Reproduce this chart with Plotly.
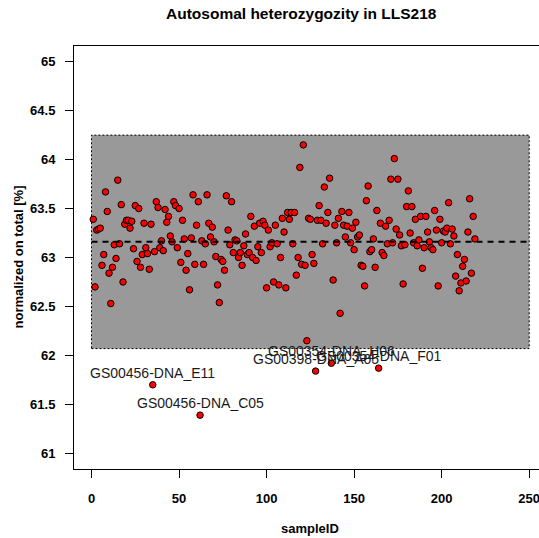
import plotly.graph_objects as go

# Normalised autosomal heterozygosity per sample (percent), in sample order
heterozygosity = [
    63.39, 62.70, 63.28, 63.29, 63.30, 62.92, 63.03, 63.67, 63.47, 62.84,
    62.53, 62.90, 63.13, 62.99, 63.79, 63.14, 63.54, 62.75, 63.34, 63.38,
    63.38, 63.30, 63.37, 63.09, 63.53, 62.96, 63.50, 62.90, 63.03, 63.35,
    63.10, 63.04, 62.88, 63.34, 61.70, 63.06, 63.57, 63.51, 63.10, 63.17,
    63.07, 63.49, 63.36, 63.42, 63.22, 63.16, 63.57, 63.53, 63.10, 63.50,
    62.95, 63.38, 63.19, 62.87, 63.04, 62.67, 63.20, 63.64, 62.93, 63.33,
    63.57, 61.39, 63.17, 62.93, 63.14, 63.64, 63.35, 63.21, 63.31, 63.16,
    63.01, 62.72, 62.54, 62.98, 62.96, 62.87, 63.63, 63.28, 63.13, 63.57,
    63.05, 63.18, 63.17, 63.00, 63.05, 62.92, 63.12, 63.24, 63.03, 63.05,
    63.42, 63.00, 63.32, 62.97, 63.11, 63.35, 63.05, 63.37, 63.33, 62.69,
    63.28, 63.11, 63.15, 62.75, 63.33, 63.14, 62.72, 63.00, 63.40, 63.26,
    62.69, 63.46, 63.39, 63.46, 63.14, 63.46, 62.82, 63.00, 63.92, 62.93,
    64.15, 62.92, 62.15, 63.40, 63.39, 63.03, 62.94, 61.84, 63.38, 63.53,
    63.38, 63.14, 63.72, 63.35, 63.46, 63.81, 61.92, 62.77, 63.33, 63.15,
    63.40, 62.43, 63.47, 63.33, 63.21, 63.32, 63.46, 63.15, 63.30, 63.08,
    63.36, 63.21, 63.23, 62.92, 62.91, 62.71, 63.58, 63.73, 63.06, 63.08,
    63.19, 62.90, 63.48, 61.87, 63.35, 63.05, 63.02, 63.32, 63.14, 63.38,
    63.80, 63.15, 64.01, 63.29, 63.80, 63.23, 63.12, 62.73, 63.13, 63.52,
    63.68, 63.25, 63.52, 63.15, 63.39, 63.12, 63.18, 63.42, 62.89, 63.10,
    63.42, 63.26, 63.16, 63.10, 63.08, 63.48, 63.28, 62.71, 63.39, 63.15,
    63.27, 63.26, 63.30, 63.56, 63.14, 63.29, 63.22, 62.81, 63.03, 62.66,
    62.74, 62.91, 62.98, 62.76, 63.26, 63.60, 62.84, 63.42, 63.19,
]
sample_ids = list(range(1, len(heterozygosity) + 1))

# Samples falling outside the accepted band, labelled by name
outlier_ids = [35, 62, 128, 137, 164]
outlier_names = [
    "GS00456-DNA_E11",
    "GS00456-DNA_C05",
    "GS00398-DNA_A05",
    "GS00354-DNA_H06",
    "GS00354-DNA_F01",
]

# Summary statistics: cohort mean and acceptance band
mean_value = 63.16
band_low = 62.07
band_high = 64.25
band_x = [0, 250]

x_ticks = [0, 50, 100, 150, 200, 250]
y_ticks = [61, 61.5, 62, 62.5, 63, 63.5, 64, 64.5, 65]

FONT = "Liberation Sans, Arial, Helvetica, sans-serif"
W, H = 539, 538
ML, MR, MT, MB = 74, 0, 46, 69

fig = go.Figure()

fig.add_trace(go.Scatter(
    x=sample_ids,
    y=heterozygosity,
    mode="markers",
    marker=dict(size=6.5, color="#ff0000", line=dict(color="#000000", width=1)),
    hoverinfo="x+y",
    showlegend=False,
    cliponaxis=False,
))

# accepted band and mean line
fig.add_shape(type="rect", xref="x", yref="y",
              x0=band_x[0], x1=band_x[1], y0=band_low, y1=band_high,
              fillcolor="#999999", line=dict(color="#000000", width=1, dash="2px,2px"),
              layer="below")
fig.add_shape(type="line", xref="x", yref="y",
              x0=band_x[0], x1=band_x[1], y0=mean_value, y1=mean_value,
              line=dict(color="#000000", width=2, dash="6px,5px"))

# outlier labels placed just above each point
for sid, name in zip(outlier_ids, outlier_names):
    fig.add_annotation(x=sid, y=heterozygosity[sid - 1], text=name,
                       showarrow=False, yshift=12,
                       font=dict(family=FONT, size=14, color="#1a1a1a"))

# title and axis titles
fig.add_annotation(xref="paper", yref="paper",
                   x=(301 - ML) / (W - ML - MR), y=1 + (MT - 14) / (H - MT - MB),
                   text="<b>Autosomal heterozygozity in LLS218</b>", showarrow=False,
                   xanchor="center", yanchor="middle",
                   font=dict(family=FONT, size=15.5, color="#000000"))
fig.add_annotation(xref="paper", yref="paper",
                   x=(310 - ML) / (W - ML - MR), y=-(528 - (H - MB)) / (H - MT - MB),
                   text="<b>sampleID</b>", showarrow=False,
                   xanchor="center", yanchor="middle",
                   font=dict(family=FONT, size=13, color="#000000"))
fig.add_annotation(xref="paper", yref="paper",
                   x=-(ML - 18) / (W - ML - MR), y=0.5,
                   text="<b>normalized on total [%]</b>", showarrow=False, textangle=-90,
                   xanchor="center", yanchor="middle",
                   font=dict(family=FONT, size=13, color="#000000"))

axis_common = dict(
    showgrid=False, zeroline=False,
    showline=True, linecolor="#000000", linewidth=1,
    ticks="outside", ticklen=8, tickwidth=1, tickcolor="#000000",
    tickfont=dict(family=FONT, size=13, color="#000000", weight="bold"),
    tickmode="array", ticklabeloverflow="allow",
)

fig.update_layout(
    width=W, height=H,
    margin=dict(l=ML, r=MR, t=MT, b=MB),
    paper_bgcolor="#ffffff", plot_bgcolor="#ffffff",
    xaxis=dict(range=[-10, 255.6], tickvals=x_ticks,
               ticktext=[str(v) for v in x_ticks], mirror=True,
               ticklabelstandoff=9, **axis_common),
    yaxis=dict(range=[60.84, 65.16], tickvals=y_ticks,
               ticktext=[f"{v:g}" for v in y_ticks],
               ticklabelstandoff=7, **axis_common),
)

fig.write_html("out.html")
